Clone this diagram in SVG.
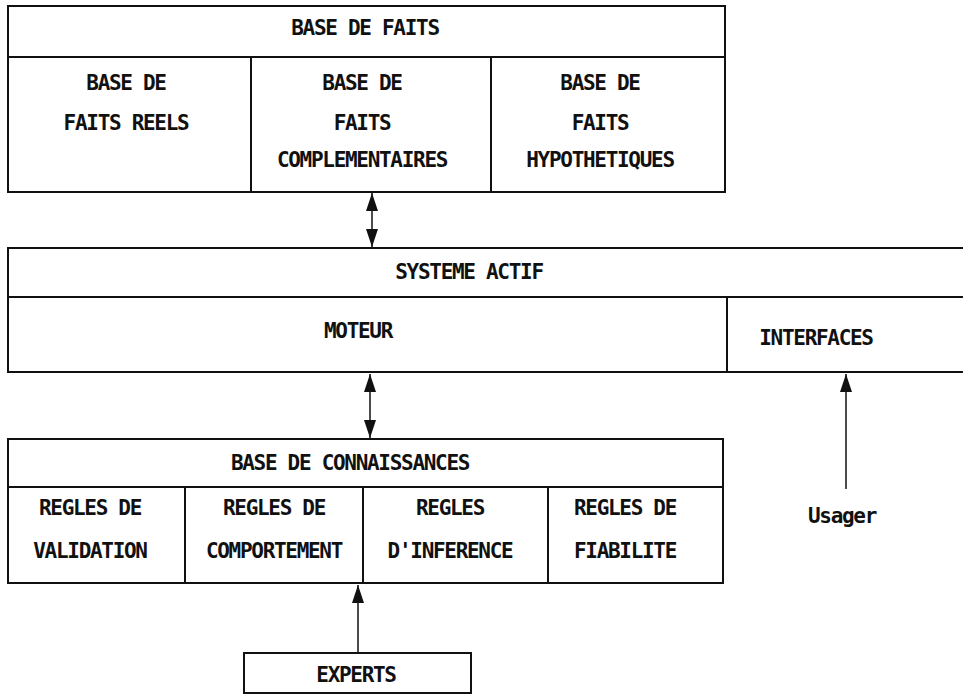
<svg xmlns="http://www.w3.org/2000/svg" width="963" height="695" viewBox="0 0 963 695">
<style>
.box{fill:none;stroke:#111;stroke-width:2}
.ln{stroke:#111;stroke-width:2;fill:none}
.cn{stroke:#111;stroke-width:1.5;fill:none}
text{font-family:"DejaVu Sans Mono","Liberation Mono",monospace;font-weight:bold;font-size:21px;letter-spacing:-1.3px;fill:#111;text-anchor:middle}
</style>
<defs>
<marker id="ah" viewBox="0 0 18 12" refX="18" refY="6" markerWidth="18" markerHeight="12" markerUnits="userSpaceOnUse" orient="auto-start-reverse">
<path d="M0,0 L18,6 L0,12 Z" fill="#111"/>
</marker>
</defs>
<rect width="963" height="695" fill="#fff"/>
<g id="base-faits">
<rect class="box" x="8" y="6" width="717" height="186"/>
<line class="ln" x1="8" y1="57" x2="725" y2="57"/>
<line class="ln" x1="251" y1="57" x2="251" y2="192"/>
<line class="ln" x1="491" y1="57" x2="491" y2="192"/>
<text x="365" y="35">BASE DE FAITS</text>
<text x="126" y="90">BASE DE</text>
<text x="126" y="130">FAITS REELS</text>
<text x="362" y="90">BASE DE</text>
<text x="362" y="130">FAITS</text>
<text x="362" y="167">COMPLEMENTAIRES</text>
<text x="600" y="90">BASE DE</text>
<text x="600" y="130">FAITS</text>
<text x="600" y="167">HYPOTHETIQUES</text>
</g>
<g id="systeme-actif">
<rect class="box" x="8" y="248" width="960" height="124"/>
<line class="ln" x1="8" y1="297" x2="963" y2="297"/>
<line class="ln" x1="727" y1="297" x2="727" y2="372"/>
<text x="469" y="279">SYSTEME ACTIF</text>
<text x="358" y="338">MOTEUR</text>
<text x="816" y="345">INTERFACES</text>
</g>
<g id="base-connaissances">
<rect class="box" x="8" y="439" width="715" height="144"/>
<line class="ln" x1="8" y1="487" x2="723" y2="487"/>
<line class="ln" x1="185" y1="487" x2="185" y2="583"/>
<line class="ln" x1="363" y1="487" x2="363" y2="583"/>
<line class="ln" x1="548" y1="487" x2="548" y2="583"/>
<text x="350" y="470">BASE DE CONNAISSANCES</text>
<text x="90" y="515">REGLES DE</text>
<text x="90" y="558">VALIDATION</text>
<text x="274" y="515">REGLES DE</text>
<text x="274" y="558">COMPORTEMENT</text>
<text x="450" y="515">REGLES</text>
<text x="450" y="558">D'INFERENCE</text>
<text x="625" y="515">REGLES DE</text>
<text x="625" y="558">FIABILITE</text>
</g>
<g id="experts">
<rect class="box" x="244" y="653" width="227" height="40"/>
<text x="356" y="682">EXPERTS</text>
</g>
<g id="usager">
<text x="842" y="523">Usager</text>
</g>
<g id="connectors">
<line class="cn" x1="372" y1="193" x2="372" y2="247" marker-start="url(#ah)" marker-end="url(#ah)"/>
<line class="cn" x1="370" y1="374" x2="370" y2="438" marker-start="url(#ah)" marker-end="url(#ah)"/>
<line class="cn" x1="358" y1="653" x2="358" y2="585" marker-end="url(#ah)"/>
<line class="cn" x1="846" y1="489" x2="846" y2="374" marker-end="url(#ah)"/>
</g>
</svg>
